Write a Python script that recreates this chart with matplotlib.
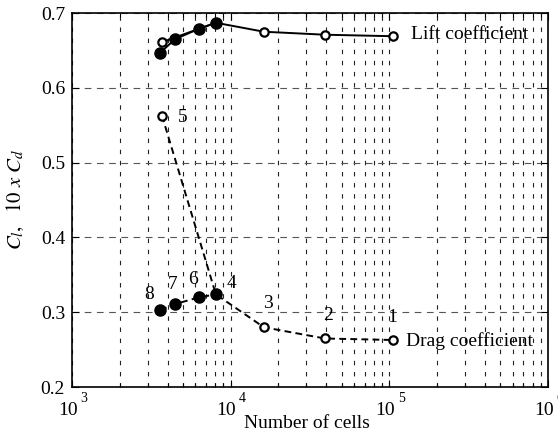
import matplotlib
matplotlib.use("Agg")
import matplotlib.pyplot as plt
from matplotlib.ticker import LogLocator, NullFormatter

plt.rcParams['font.family'] = ['Liberation Serif', 'DejaVu Serif']
plt.rcParams['mathtext.fontset'] = 'stix'

# Filled points (meshes 8,7,6,4) and open points (meshes 5,4,3,2,1)
cells_filled = [3600, 4460, 6320, 8070]
lift_filled = [0.647, 0.665, 0.679, 0.687]
drag_filled = [0.303, 0.311, 0.320, 0.324]
labels_filled = ['8', '7', '6', '4']

cells_open = [3690, 8070, 16200, 39300, 105000]
lift_open = [0.661, 0.687, 0.675, 0.671, 0.669]
drag_open = [0.563, 0.324, 0.280, 0.265, 0.263]
labels_open = ['5', '', '3', '2', '1']

xticks = [1e3, 1e4, 1e5, 1e6]
xtick_exp = ['3', '4', '5', '6']
yticks = [0.2, 0.3, 0.4, 0.5, 0.6, 0.7]

FS = 14

fig = plt.figure(figsize=(5.58, 4.34), dpi=100)
ax = fig.add_axes([0.129, 0.108, 0.853, 0.862])
ax.set_xscale('log')
ax.set_xlim(1e3, 1e6)
ax.set_ylim(0.2, 0.7)

# grid
ax.xaxis.set_minor_locator(LogLocator(base=10, subs=range(2, 10)))
ax.xaxis.set_minor_formatter(NullFormatter())
ax.grid(True, which='major', axis='y', color='#555555', linestyle=(0, (6, 5)), linewidth=0.8)
ax.grid(True, which='both', axis='x', color='#222222', linestyle=(0, (4, 6)), linewidth=0.8)
ax.set_axisbelow(True)

# lift lines
ax.plot(cells_filled, lift_filled, '-', color='black', lw=1.4, zorder=3)
ax.plot(cells_open, lift_open, '-', color='black', lw=1.4, zorder=3)
ax.plot(cells_open[:1] + cells_open[2:], lift_open[:1] + lift_open[2:], 'o', ms=6,
        mfc='white', mec='black', mew=1.6, zorder=4)
ax.plot(cells_filled, lift_filled, 'o', ms=8, mfc='black', mec='black', zorder=5)

# drag lines
ax.plot(cells_filled, drag_filled, '--', color='black', lw=1.4, dashes=(3.5, 2.2), zorder=3)
ax.plot(cells_open, drag_open, '--', color='black', lw=1.4, dashes=(3.5, 2.2), zorder=3)
ax.plot(cells_open[:1] + cells_open[2:], drag_open[:1] + drag_open[2:], 'o', ms=6,
        mfc='white', mec='black', mew=1.6, zorder=4)
ax.plot(cells_filled, drag_filled, 'o', ms=8, mfc='black', mec='black', zorder=5)

# point number labels
offs_filled = [(-8, 11.5), (-2, 14.4), (-4.3, 13), (11.5, 8)]
for x, y, t, o in zip(cells_filled, drag_filled, labels_filled, offs_filled):
    ax.annotate(t, (x, y), xytext=o, textcoords='offset points', ha='center', va='center', fontsize=FS)
offs_open = [(15, -1.5), (0, 0), (3, 17), (2, 16.5), (-0.5, 16.5)]
for x, y, t, o in zip(cells_open, drag_open, labels_open, offs_open):
    if t:
        ax.annotate(t, (x, y), xytext=o, textcoords='offset points', ha='center', va='center', fontsize=FS)

ax.annotate('Lift coefficient', (cells_open[-1], lift_open[-1]), xytext=(13.5, 1),
            textcoords='offset points', ha='left', va='center', fontsize=FS)
ax.annotate('Drag coefficient', (cells_open[-1], drag_open[-1]), xytext=(9.5, -1),
            textcoords='offset points', ha='left', va='center', fontsize=FS)

# ticks
ax.set_yticks(yticks)
ax.set_yticklabels(['%.1f' % v for v in yticks], fontsize=FS)
ax.set_xticks(xticks)
ax.set_xticklabels([''] * len(xticks))
ax.tick_params(which='both', direction='in', top=True, right=True)
ax.tick_params(which='major', length=5, width=0.8)
ax.tick_params(which='minor', length=3, width=0.8)
ax.tick_params(axis='y', pad=5)
for s in ax.spines.values():
    s.set_linewidth(1.2)

tr = ax.get_xaxis_transform()
for x, e in zip(xticks, xtick_exp):
    ax.annotate('10', (x, 0), xycoords=tr, xytext=(4, -17), textcoords='offset points',
                ha='right', va='center', fontsize=FS, annotation_clip=False)
    ax.annotate(e, (x, 0), xycoords=tr, xytext=(6, -8.5), textcoords='offset points',
                ha='left', va='center', fontsize=10, annotation_clip=False)

fig.text(0.55, 1 - 423 / 434, 'Number of cells', ha='center', va='center', fontsize=FS)
fig.text(15 / 558, 0.54, r'$C_l,\ \ \mathit{10\ x}\ C_d$', rotation=90,
         ha='center', va='center', fontsize=15)

fig.savefig('out.png', dpi=100)
